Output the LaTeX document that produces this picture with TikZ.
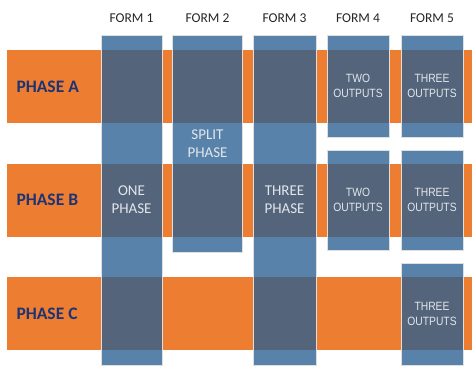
\documentclass[tikz,border=0pt]{standalone}
\usepackage{fontspec}
\setmainfont{Carlito}
\newfontfamily\narrowfont[FakeStretch=0.86]{Liberation Sans}
\definecolor{bandorange}{RGB}{237,125,49}
\definecolor{boxblue}{RGB}{38,93,145}
\definecolor{phasenavy}{RGB}{28,52,118}
\definecolor{boxtext}{RGB}{225,230,236}
\tikzset{
  band/.style={draw=none, fill=bandorange, minimum width=465pt, minimum height=73pt, inner sep=0pt, outer sep=0pt},
  col/.style={draw=white!75!gray, line width=0.8pt, fill=boxblue, fill opacity=0.77, text opacity=1,
     text=boxtext, inner sep=0pt, outer sep=0pt, align=center, font=\fontsize{15}{18}\selectfont},
  outbox/.style={col, font=\narrowfont\fontsize{12}{15.5}\selectfont},
  formlbl/.style={font=\fontsize{13.5}{16}\selectfont, text=black!85},
  phaselbl/.style={font=\bfseries\fontsize{17.5}{20}\selectfont, text=phasenavy, anchor=west}
}
\begin{document}
\begin{tikzpicture}[x=1pt,y=-1pt]
\useasboundingbox (0,0) rectangle (472,368);
% orange bands
\node[band] (bandA) at (239.5,86.5) {};
\node[band] (bandB) at (239.5,200) {};
\node[band] (bandC) at (239.5,313.5) {};
% phase labels
\node[phaselbl] (pA) at (13,86.5) {PHASE A};
\node[phaselbl] (pB) at (13,200) {PHASE B};
\node[phaselbl] (pC) at (13,313.5) {PHASE C};
% form labels
\node[formlbl] (f1) at (131.5,18) {FORM 1};
\node[formlbl] (f2) at (207.5,18) {FORM 2};
\node[formlbl] (f3) at (284.5,18) {FORM 3};
\node[formlbl] (f4) at (358,18) {FORM 4};
\node[formlbl] (f5) at (432,18) {FORM 5};
% columns
\node[col, minimum width=61pt, minimum height=330pt] (c1) at (131.5,200) {ONE\\PHASE};
\node[col, minimum width=70pt, minimum height=217pt] (c2) at (207.5,143.5) {SPLIT\\PHASE};
\node[col, minimum width=63pt, minimum height=330pt] (c3) at (284.5,200) {THREE\\PHASE};
\node[outbox, minimum width=62pt, minimum height=102pt] (c4a) at (358,86) {TWO\\OUTPUTS};
\node[outbox, minimum width=62pt, minimum height=100pt] (c4b) at (358,200) {TWO\\OUTPUTS};
\node[outbox, minimum width=62pt, minimum height=102pt] (c5a) at (432,86) {THREE\\OUTPUTS};
\node[outbox, minimum width=62pt, minimum height=100pt] (c5b) at (432,200) {THREE\\OUTPUTS};
\node[outbox, minimum width=62pt, minimum height=102pt] (c5c) at (432,314) {THREE\\OUTPUTS};
\end{tikzpicture}
\end{document}
